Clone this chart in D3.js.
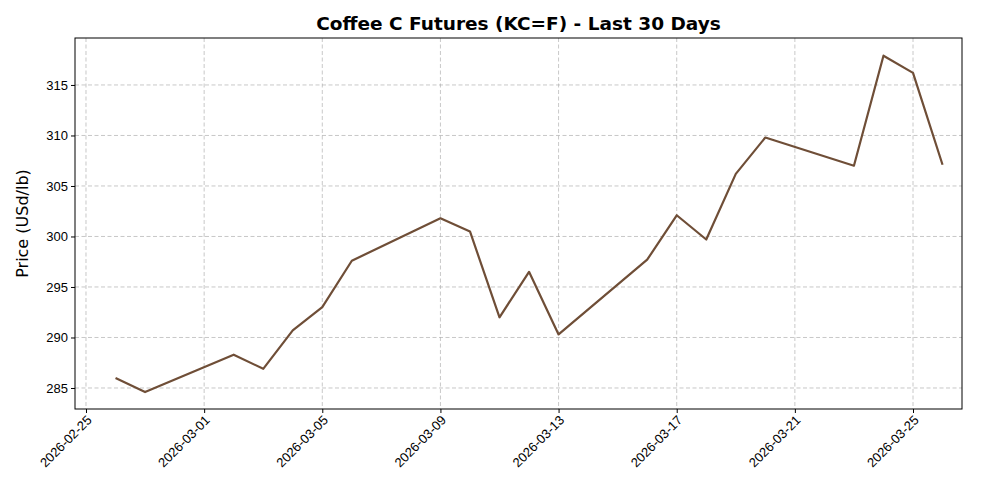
<!DOCTYPE html>
<html><head><meta charset="utf-8">
<script src="https://cdn.jsdelivr.net/npm/d3@7"></script>
<style>body{margin:0;background:#fff}svg{font-family:"DejaVu Sans",sans-serif}</style>
</head><body><svg id="c" width="1000" height="500"></svg>
<script>
const dates=["2026-02-26","2026-02-27","2026-03-02","2026-03-03","2026-03-04","2026-03-05","2026-03-06","2026-03-09","2026-03-10","2026-03-11","2026-03-12","2026-03-13","2026-03-16","2026-03-17","2026-03-18","2026-03-19","2026-03-20","2026-03-23","2026-03-24","2026-03-25","2026-03-26"];
const prices=[286.0,284.6,288.3,286.9,290.7,293.0,297.6,301.8,300.5,292.0,296.5,290.3,297.7,302.1,299.7,306.2,309.8,307.0,317.9,316.2,307.1];
const xTicks=["2026-02-25","2026-03-01","2026-03-05","2026-03-09","2026-03-13","2026-03-17","2026-03-21","2026-03-25"];
const yTicks=[285,290,295,300,305,310,315];

const svg=d3.select("#c");
const L=75,R=962,T=38,B=409;
const p=d3.utcParse("%Y-%m-%d");
const day=864e5;
const x=d3.scaleUtc().domain([new Date(+p("2026-02-25")-11/29.54*day),new Date(+p("2026-03-25")+49/29.54*day)]).range([L,R]);
const y=d3.scaleLinear().domain([282.92,319.65]).range([B,T]);

const g=svg.append("g");
g.selectAll(".gx").data(xTicks).join("line").attr("x1",d=>x(p(d))).attr("x2",d=>x(p(d))).attr("y1",T).attr("y2",B)
 .attr("stroke","#b0b0b0").attr("stroke-opacity",0.7).attr("stroke-dasharray","4,2.5");
g.selectAll(".gy").data(yTicks).join("line").attr("y1",d=>y(d)).attr("y2",d=>y(d)).attr("x1",L).attr("x2",R)
 .attr("stroke","#b0b0b0").attr("stroke-opacity",0.7).attr("stroke-dasharray","4,2.5");

svg.append("path").datum(dates.map((d,i)=>[p(d),prices[i]]))
 .attr("d",d3.line().x(d=>x(d[0])).y(d=>y(d[1])))
 .attr("fill","none").attr("stroke","#6F4E37").attr("stroke-width",2.2).attr("stroke-linejoin","round");

svg.append("rect").attr("x",L).attr("y",T).attr("width",R-L).attr("height",B-T).attr("fill","none").attr("stroke","#000").attr("stroke-width",1);

const xa=svg.append("g").attr("transform",`translate(0,${B})`)
 .call(d3.axisBottom(x).tickValues(xTicks.map(p)).tickFormat(d3.utcFormat("%Y-%m-%d")).tickSize(4).tickSizeOuter(0));
xa.select(".domain").remove();
xa.selectAll("text").attr("font-size",13).attr("fill","#000").attr("text-anchor","end")
 .attr("y",0).attr("dy",0).attr("transform","translate(6,12) rotate(-45)");
const ya=svg.append("g").attr("transform",`translate(${L},0)`)
 .call(d3.axisLeft(y).tickValues(yTicks).tickSize(4).tickSizeOuter(0));
ya.select(".domain").remove();
ya.selectAll("text").attr("font-size",13).attr("fill","#000");

svg.append("text").attr("x",(L+R)/2).attr("y",30).attr("text-anchor","middle").attr("font-size",18.5).attr("font-weight","bold").text("Coffee C Futures (KC=F) - Last 30 Days");
svg.append("text").attr("transform",`translate(28,${(T+B)/2}) rotate(-90)`).attr("text-anchor","middle").attr("font-size",16).text("Price (USd/lb)");
</script></body></html>
